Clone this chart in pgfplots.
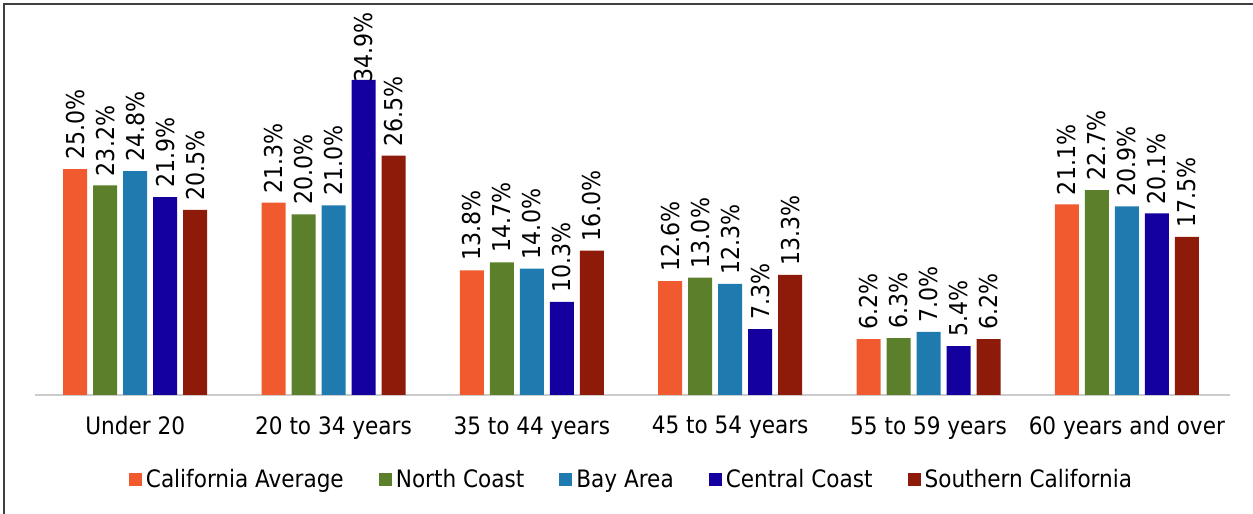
\documentclass[border=0pt]{standalone}
\usepackage{pgfplots}
\pgfplotsset{compat=1.18}
\usepackage{fontspec}
\setmainfont{DejaVu Sans Condensed}

\definecolor{caavg}{HTML}{F05A2E}
\definecolor{ncoast}{HTML}{5B7F2A}
\definecolor{bayarea}{HTML}{1F7BAF}
\definecolor{ccoast}{HTML}{13009E}
\definecolor{socal}{HTML}{8E1A0A}

\begin{document}
\begin{tikzpicture}
\path[use as bounding box] (0,0) rectangle (626.5pt,257pt);
\draw[line width=1pt, black!75] (2pt,0) -- (2pt,255pt) -- (626.5pt,255pt);
\begin{axis}[
  at={(17.5pt,59.5pt)}, anchor=south west,
  scale only axis, width=597.5pt, height=195.5pt,
  ybar=3pt, bar width=12pt,
  xmin=-0.505, xmax=5.52, ymin=0, ymax=43.3,
  axis x line=bottom, axis y line=none,
  x axis line style={draw=black!20, line width=0.8pt, -},
  xtick=data, xtick style={draw=none},
  xticklabels={Under 20, 20 to 34 years, 35 to 44 years, 45 to 54 years, 55 to 59 years, 60 years and over},
  xticklabel style={font=\fontsize{12}{14}\selectfont, yshift=-5pt},
  nodes near coords={\pgfmathprintnumber[fixed, fixed zerofill, precision=1]{\pgfplotspointmeta}\%},
  nodes near coords style={rotate=90, anchor=west, font=\fontsize{12.3}{14}\selectfont, inner sep=1pt, xshift=3.5pt},
  /pgf/number format/assume math mode=true,
  legend style={at={(0.5,-0.217)}, anchor=center, draw=none, legend columns=-1,
    font=\fontsize{12}{14}\selectfont, /tikz/every even column/.append style={column sep=15.5pt}},
  legend image code/.code={\fill[#1] (0cm,-0.115cm) rectangle (0.23cm,0.115cm);},
]
\addplot[fill=caavg, draw=none] coordinates {(0,25.0) (1,21.3) (2,13.8) (3,12.6) (4,6.2) (5,21.1)};
\addplot[fill=ncoast, draw=none] coordinates {(0,23.2) (1,20.0) (2,14.7) (3,13.0) (4,6.3) (5,22.7)};
\addplot[fill=bayarea, draw=none] coordinates {(0,24.8) (1,21.0) (2,14.0) (3,12.3) (4,7.0) (5,20.9)};
\addplot[fill=ccoast, draw=none, coordinate style/.condition={y>30}{yshift=-6pt}] coordinates {(0,21.9) (1,34.9) (2,10.3) (3,7.3) (4,5.4) (5,20.1)};
\addplot[fill=socal, draw=none] coordinates {(0,20.5) (1,26.5) (2,16.0) (3,13.3) (4,6.2) (5,17.5)};
\legend{California Average, North Coast, Bay Area, Central Coast, Southern California}
\end{axis}
\end{tikzpicture}
\end{document}
